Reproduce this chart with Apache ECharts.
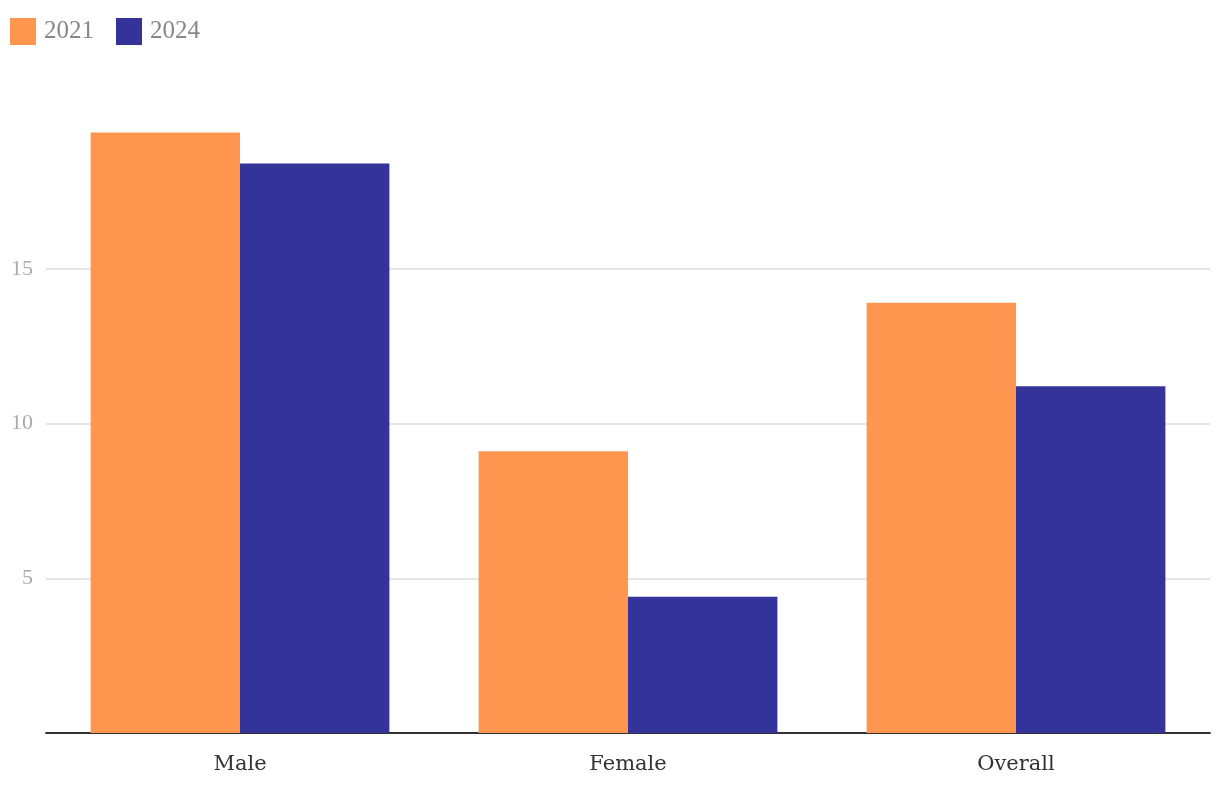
<!DOCTYPE html>
<html>
<head>
<meta charset="utf-8">
<script src="https://cdn.jsdelivr.net/npm/echarts@6/dist/echarts.min.js"></script>
<style>html,body{margin:0;padding:0;background:#fff}#c{width:1220px;height:792px}</style>
</head>
<body>
<div id="c"></div>
<script>
var categories = ['Male', 'Female', 'Overall'];
var seriesNames = ['2021', '2024'];
var values2021 = [19.4, 9.1, 13.9];
var values2024 = [18.4, 4.4, 11.2];
var yTicks = [0, 5, 10, 15, 20];

var font = 'Liberation Serif, DejaVu Serif, serif';
var chart = echarts.init(document.getElementById('c'));
chart.setOption({
  animation: false,
  textStyle: { fontFamily: font },
  legend: {
    left: 10, top: 18, padding: 0, itemWidth: 26, itemHeight: 27, itemGap: 22,
    icon: 'rect',
    textStyle: { fontFamily: font, fontSize: 25, color: '#888', padding: [0, 0, 0, 3] },
    data: seriesNames
  },
  grid: { left: 46, right: 10, top: 114, bottom: 59, containLabel: false },
  xAxis: {
    type: 'category', data: categories,
    axisLine: { lineStyle: { color: '#333', width: 2 } },
    axisTick: { show: false },
    axisLabel: { fontFamily: 'DejaVu Serif', fontSize: 21, color: '#333', margin: 21 }
  },
  yAxis: {
    type: 'value', min: yTicks[0], max: yTicks[yTicks.length - 1], interval: 5,
    axisLine: { show: false }, axisTick: { show: false },
    axisLabel: { fontFamily: font, fontSize: 22, color: '#aaa', margin: 13, showMinLabel: false, showMaxLabel: false },
    splitLine: { showMaxLine: false, lineStyle: { color: '#e6e6e6', width: 2 } }
  },
  series: [
    { name: seriesNames[0], type: 'bar', data: values2021, barGap: '0%', barCategoryGap: '23%', itemStyle: { color: '#FF9650' } },
    { name: seriesNames[1], type: 'bar', data: values2024, barGap: '0%', barCategoryGap: '23%', itemStyle: { color: '#333399' } }
  ]
});
</script>
</body>
</html>
